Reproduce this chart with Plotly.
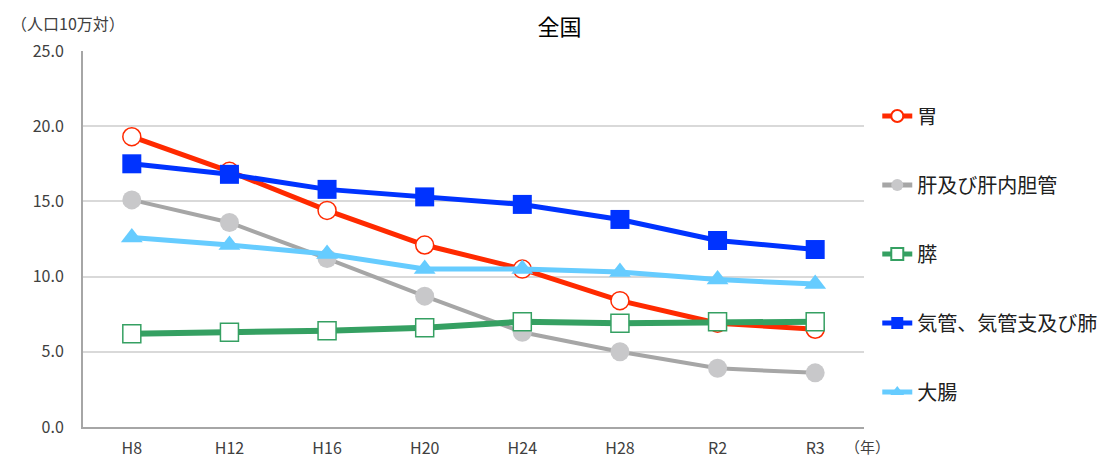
import plotly.graph_objects as go

categories = ["H8", "H12", "H16", "H20", "H24", "H28", "R2", "R3"]
stomach = [19.3, 17.0, 14.4, 12.1, 10.5, 8.4, 6.9, 6.5]
liver = [15.1, 13.6, 11.2, 8.7, 6.3, 5.0, 3.9, 3.6]
pancreas = [6.2, 6.3, 6.4, 6.6, 7.0, 6.9, 7.0, 7.0]
lung = [17.5, 16.8, 15.8, 15.3, 14.8, 13.8, 12.4, 11.8]
colon = [12.6, 12.1, 11.5, 10.5, 10.5, 10.3, 9.8, 9.5]
y_ticks = [0, 5, 10, 15, 20, 25]
y_tick_labels = ["0.0", "5.0", "10.0", "15.0", "20.0", "25.0"]

FONT = "Noto Sans CJK JP"

fig = go.Figure()

# drawing order chosen to match overlaps; legend order via legendrank
fig.add_trace(go.Scatter(
    x=categories, y=liver, name="肝及び肝内胆管", mode="lines+markers",
    line=dict(color="#A6A6A6", width=4),
    marker=dict(symbol="circle", size=19, color="#C8C8CA", line=dict(width=0)),
    legendrank=2, legendgroup="b"))
fig.add_trace(go.Scatter(
    x=categories, y=stomach, name="胃", mode="lines+markers",
    line=dict(color="#FF2A00", width=5),
    marker=dict(symbol="circle", size=18, color="white", line=dict(color="#FF2A00", width=1.5)),
    legendrank=1, legendgroup="a"))
fig.add_trace(go.Scatter(
    x=categories, y=pancreas, name="膵", mode="lines+markers",
    line=dict(color="#35A062", width=6),
    marker=dict(symbol="square", size=18, color="white", line=dict(color="#35A062", width=1.5)),
    legendrank=3, legendgroup="c"))
fig.add_trace(go.Scatter(
    x=categories, y=lung, name="気管、気管支及び肺", mode="lines+markers",
    line=dict(color="#0033FF", width=5),
    marker=dict(symbol="square", size=19, color="#0033FF", line=dict(width=0)),
    legendrank=4, legendgroup="d"))
fig.add_trace(go.Scatter(
    x=categories, y=colon, name="大腸", mode="lines+markers",
    line=dict(color="#66CCFF", width=5),
    marker=dict(symbol="triangle-up", size=19, color="#66CCFF", line=dict(width=0)),
    legendrank=5, legendgroup="e"))

fig.update_layout(
    width=1104, height=453,
    margin=dict(l=75, r=248, t=43, b=34, autoexpand=False),
    paper_bgcolor="white", plot_bgcolor="white",
    font=dict(family=FONT, color="#404040", size=16),
    title=dict(text="全国", x=0.4995, xref="container", xanchor="center",
               y=0.958, yref="container", yanchor="middle",
               font=dict(family=FONT, size=22, color="#000000")),
    showlegend=True,
    legend=dict(x=1.017, xanchor="left", y=0.879, yanchor="top",
                font=dict(family=FONT, size=20, color="#202020"),
                tracegroupgap=40, itemsizing="constant",
                bgcolor="rgba(0,0,0,0)", borderwidth=0),
    annotations=[
        dict(text="（人口10万対）", xref="paper", yref="paper", x=-0.0945, y=1.0745,
             xanchor="left", yanchor="middle", showarrow=False,
             font=dict(family=FONT, size=16, color="#404040")),
        dict(text="（年）", xref="paper", yref="paper", x=0.973, y=-0.052,
             xanchor="left", yanchor="middle", showarrow=False,
             font=dict(family=FONT, size=15, color="#404040")),
    ],
)

fig.update_xaxes(type="category", categoryorder="array", categoryarray=categories,
                 range=[-0.5, 7.5], showgrid=False, showline=True,
                 linecolor="#A6A6A6", linewidth=2, ticks="", zeroline=False,
                 ticklabelstandoff=6, automargin=False,
                 tickfont=dict(family=FONT, size=16, color="#404040"))
fig.update_yaxes(range=[0, 25], tickvals=y_ticks, ticktext=y_tick_labels,
                 showgrid=True, gridcolor="#D9D9D9", gridwidth=2,
                 showline=True, linecolor="#A6A6A6", linewidth=2,
                 ticks="", zeroline=False, ticklabelstandoff=14, automargin=False,
                 tickfont=dict(family=FONT, size=16, color="#404040"))

fig.write_html("out.html")
